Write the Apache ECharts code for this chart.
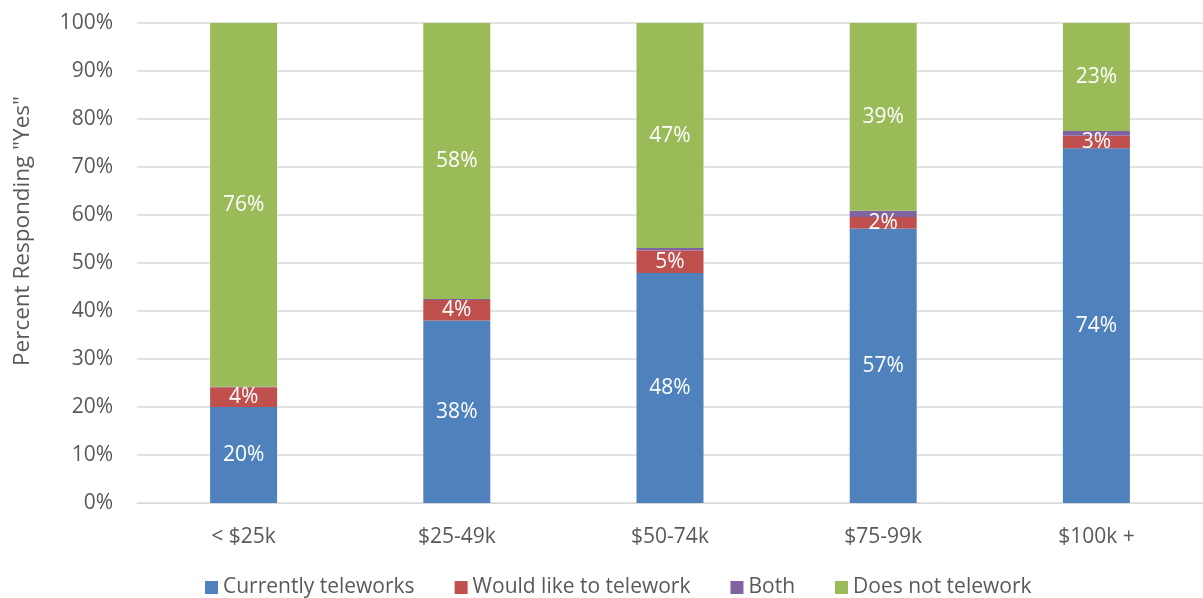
<!DOCTYPE html>
<html>
<head>
<meta charset="utf-8">
<script src="https://cdn.jsdelivr.net/npm/echarts@6/dist/echarts.min.js"></script>
<style>
html,body{margin:0;padding:0;background:#fff;}
#chart{width:1203px;height:598px;}
</style>
</head>
<body>
<div id="chart"></div>
<script>
const categories = ['< $25k', '$25-49k', '$50-74k', '$75-99k', '$100k +'];
const currentlyTeleworks = [20.0, 38.0, 47.9, 57.2, 73.9];
const wouldLikeToTelework = [4.1, 4.3, 4.7, 2.4, 2.6];
const both = [0.1, 0.2, 0.5, 1.3, 1.0];
const doesNotTelework = [75.8, 57.5, 46.9, 39.1, 22.5];
const yTicks = [0, 10, 20, 30, 40, 50, 60, 70, 80, 90, 100];

const FONT = 'Open Sans';
const chart = echarts.init(document.getElementById('chart'));
const lbl = {
  show: true, position: 'inside', color: '#ffffff', fontSize: 21, fontFamily: FONT,
  formatter: p => Math.round(p.value) + '%'
};
function ser(name, data, color, showLabel) {
  return {
    name, type: 'bar', stack: 'total', data, barWidth: 67,
    itemStyle: { color },
    label: showLabel ? lbl : { show: false },
    emphasis: { disabled: true }
  };
}
chart.setOption({
  animation: false,
  textStyle: { fontFamily: FONT },
  grid: { left: 137, right: 0, top: 23, bottom: 95, containLabel: false },
  legend: {
    bottom: -5, left: 200, itemWidth: 13, itemHeight: 13, itemGap: 40,
    icon: 'rect',
    textStyle: { fontSize: 21, color: '#595959', fontFamily: FONT },
    data: ['Currently teleworks', 'Would like to telework', 'Both', 'Does not telework']
  },
  xAxis: {
    type: 'category', data: categories,
    axisLine: { show: true, lineStyle: { color: '#d9d9d9', width: 1 } },
    axisTick: { show: false },
    axisLabel: { fontSize: 21, color: '#595959', margin: 24, fontFamily: FONT }
  },
  yAxis: {
    type: 'value', min: 0, max: 100, interval: 10,
    name: 'Percent Responding "Yes"', nameLocation: 'middle', nameGap: 103, nameRotate: 90,
    nameTextStyle: { fontSize: 22.5, color: '#595959', fontFamily: FONT, padding: [0, 0, 0, 64] },
    axisLine: { show: false }, axisTick: { show: false },
    splitLine: { lineStyle: { color: '#d9d9d9', width: 1.5 } },
    axisLabel: { fontSize: 21, color: '#595959', margin: 24, fontFamily: FONT,
      formatter: v => yTicks.includes(v) ? v + '%' : '' }
  },
  series: [
    ser('Currently teleworks', currentlyTeleworks, '#4f81bd', true),
    ser('Would like to telework', wouldLikeToTelework, '#c0504d', true),
    ser('Both', both, '#8064a2', false),
    ser('Does not telework', doesNotTelework, '#9bbb59', true)
  ]
});
</script>
</body>
</html>
